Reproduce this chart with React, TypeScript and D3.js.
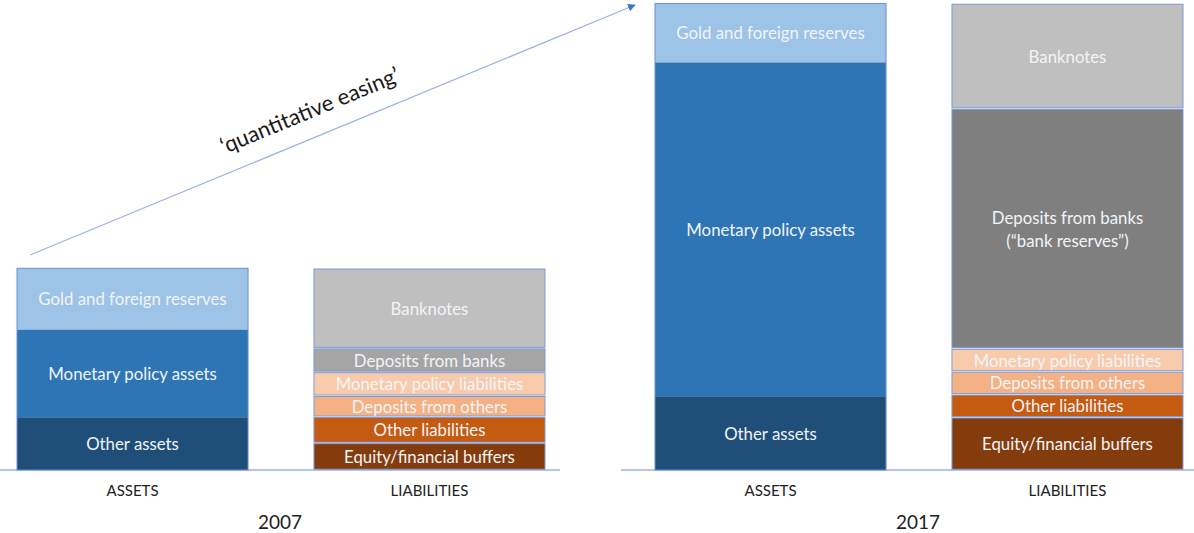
import React from "react";
import * as d3 from "d3";

// ---- data (arbitrary size units; 2017 total balance sheet = 100) ----
const years = ["2007", "2017"];
const sides = ["ASSETS", "LIABILITIES"];

const assetCategories = ["Other assets", "Monetary policy assets", "Gold and foreign reserves"];
const assets2007 = [11.3, 18.8, 13.1];
const assets2017 = [15.8, 71.5, 12.6];

const liabilityCategories = [
  "Equity/financial buffers",
  "Other liabilities",
  "Deposits from others",
  "Monetary policy liabilities",
  "Deposits from banks",
  "Banknotes",
];
const liabilityLabels2007 = [
  "Equity/financial buffers",
  "Other liabilities",
  "Deposits from others",
  "Monetary policy liabilities",
  "Deposits from banks",
  "Banknotes",
];
const liabilityLabels2017 = [
  "Equity/financial buffers",
  "Other liabilities",
  "Deposits from others",
  "Monetary policy liabilities",
  "Deposits from banks\n(\u201cbank reserves\u201d)",
  "Banknotes",
];
const liabilities2007 = [5.8, 5.6, 4.5, 5.1, 5.1, 17.1];
const liabilities2017 = [11.3, 4.9, 4.9, 4.9, 51.4, 22.5];

const arrowLabel = "\u2018quantitative easing\u2019";

// ---- styles ----
const W = 1194;
const H = 533;
const assetColors: Record<string, string> = {
  "Other assets": "#1f4e79",
  "Monetary policy assets": "#2e75b6",
  "Gold and foreign reserves": "#9dc3e6",
};
const liabilityColors: Record<string, Record<string, string>> = {
  "2007": {
    "Equity/financial buffers": "#843c0c",
    "Other liabilities": "#c55a11",
    "Deposits from others": "#f4b183",
    "Monetary policy liabilities": "#f8cbad",
    "Deposits from banks": "#a5a5a5",
    Banknotes: "#bfbfbf",
  },
  "2017": {
    "Equity/financial buffers": "#843c0c",
    "Other liabilities": "#c55a11",
    "Deposits from others": "#f4b183",
    "Monetary policy liabilities": "#f8cbad",
    "Deposits from banks": "#7f7f7f",
    Banknotes: "#bfbfbf",
  },
};

const FONT = "Lato, 'Open Sans', 'DejaVu Sans', sans-serif";

type Seg = { key: string; label: string; y0: number; y1: number; color: string };

function stack(cats: string[], labels: string[], vals: number[], colorOf: (c: string) => string): Seg[] {
  let acc = 0;
  return cats.map((c, i) => {
    const s = { key: c, label: labels[i], y0: acc, y1: acc + vals[i], color: colorOf(c) };
    acc += vals[i];
    return s;
  });
}

export default function App() {
  const y = d3.scaleLinear().domain([0, 100]).range([470, 3]);
  const panel = d3.scaleOrdinal<string, number>().domain(years).range([0, 638]);
  const xb = d3.scaleBand<string>().domain(sides).range([17, 545]).paddingInner(0.222).paddingOuter(0);
  const bw = xb.bandwidth();

  const data: Record<string, Record<string, Seg[]>> = {
    "2007": {
      ASSETS: stack(assetCategories, assetCategories, assets2007, (c) => assetColors[c]),
      LIABILITIES: stack(liabilityCategories, liabilityLabels2007, liabilities2007, (c) => liabilityColors["2007"][c]),
    },
    "2017": {
      ASSETS: stack(assetCategories, assetCategories, assets2017, (c) => assetColors[c]),
      LIABILITIES: stack(liabilityCategories, liabilityLabels2017, liabilities2017, (c) => liabilityColors["2017"][c]),
    },
  };

  // arrow geometry
  const ax0 = 30, ay0 = 255, ax1 = 635, ay1 = 5;
  const ang = (Math.atan2(ay1 - ay0, ax1 - ax0) * 180) / Math.PI;
  const tcx = 320;
  const tcy = ay0 + ((tcx - ax0) / (ax1 - ax0)) * (ay1 - ay0);

  return (
    <svg width={W} height={H} style={{ position: "absolute", left: 0, top: 0, background: "#fff" }} fontFamily={FONT}>
      <defs>
        <marker id="arrowhead" viewBox="0 0 10 10" refX="9" refY="5" markerWidth="6" markerHeight="6" orient="auto">
          <path d="M0,0 L10,5 L0,10 z" fill="#4472c4" />
        </marker>
      </defs>

      {/* arrow */}
      <line x1={ax0} y1={ay0} x2={ax1} y2={ay1} stroke="#9db3e0" strokeWidth={1.3} markerEnd="url(#arrowhead)" />
      <text
        transform={`translate(${tcx},${tcy}) rotate(${ang}) translate(0,-19)`}
        textAnchor="middle"
        fontSize={22}
        fill="#1a1a1a"
      >
        {arrowLabel}
      </text>

      {years.map((yr) => {
        const off = panel(yr);
        return (
          <g key={yr} transform={`translate(${off},0)`}>
            {/* baseline */}
            <line x1={-17} x2={560} y1={y(0)} y2={y(0)} stroke="#9db3e0" strokeWidth={1.5} />
            {sides.map((sd) => {
              const x0 = xb(sd) as number;
              const segs = data[yr][sd];
              const isL = sd === "LIABILITIES";
              return (
                <g key={sd}>
                  {segs.map((s) => {
                    const top = y(s.y1);
                    const bot = y(s.y0);
                    const lines = s.label.split("\n");
                    const cy = (top + bot) / 2;
                    return (
                      <g key={s.key}>
                        <rect
                          x={x0}
                          y={top + (isL ? 0.75 : 0)}
                          width={bw}
                          height={Math.max(0, bot - top - (isL ? 1.5 : 0))}
                          fill={s.color}
                          stroke={isL ? "#7f9bd6" : "none"}
                          strokeWidth={1}
                        />
                        {lines.map((ln, i) => (
                          <text
                            key={i}
                            x={x0 + bw / 2}
                            y={cy + (i - (lines.length - 1) / 2) * 23}
                            textAnchor="middle"
                            dominantBaseline="central"
                            fontSize={16.8}
                            fill="#f2f4f8"
                          >
                            {ln}
                          </text>
                        ))}
                      </g>
                    );
                  })}
                  {!isL && (
                    <rect
                      x={x0}
                      y={y(segs[segs.length - 1].y1)}
                      width={bw}
                      height={y(0) - y(segs[segs.length - 1].y1)}
                      fill="none"
                      stroke="#6d8fd0"
                      strokeWidth={1}
                    />
                  )}
                  <text x={x0 + bw / 2} y={490} textAnchor="middle" dominantBaseline="central" fontSize={15} fill="#222">
                    {sd}
                  </text>
                </g>
              );
            })}
            <text x={280} y={521} textAnchor="middle" dominantBaseline="central" fontSize={19} fill="#222">
              {yr}
            </text>
          </g>
        );
      })}
    </svg>
  );
}
